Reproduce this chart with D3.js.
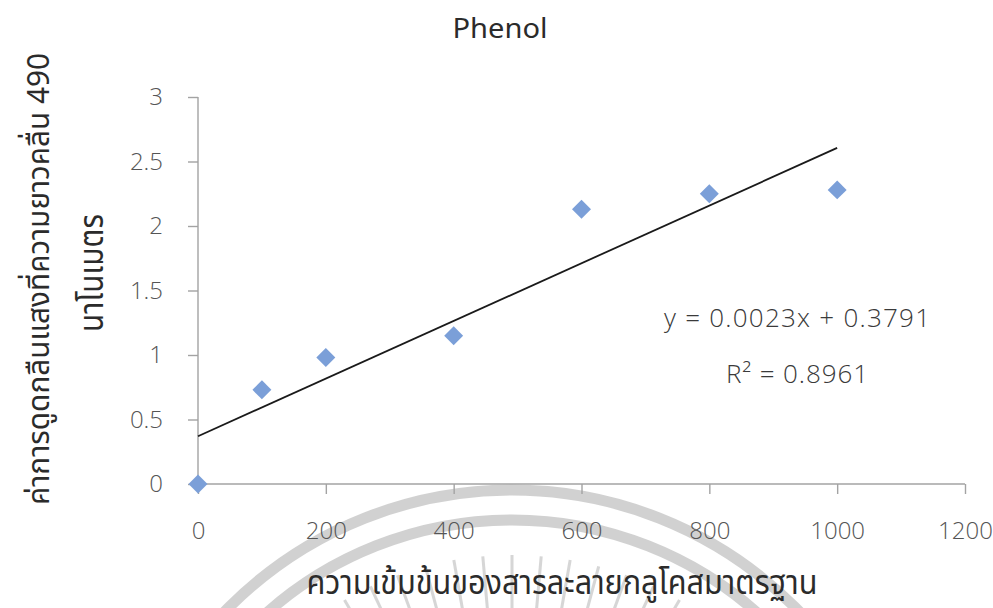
<!DOCTYPE html>
<html><head><meta charset="utf-8">
<script src="https://cdn.jsdelivr.net/npm/d3@7"></script>
<style>
html,body{margin:0;padding:0;background:#fff;}
svg{display:block;}
</style></head>
<body>
<svg id="chart" width="993" height="608"></svg>
<script>
const chartTitle = "Phenol";
const xTitle = "ความเข้มข้นของสารละลายกลูโคสมาตรฐาน";
const yTitleLines = ["ค่าการดูดกลืนแสงที่ความยาวคลื่น 490", "นาโนเมตร"];
const concentrations = [0, 100, 200, 400, 600, 800, 1000];
const absorbance = [0, 0.73, 0.98, 1.15, 2.13, 2.25, 2.28];
const xTicks = [0, 200, 400, 600, 800, 1000, 1200];
const yTicks = [0, 0.5, 1, 1.5, 2, 2.5, 3];
const equationText = "y = 0.0023x + 0.3791";
const r2Text = "R² = 0.8961";

const svg = d3.select("#chart");
const W = 993, H = 608;
const m = {left: 198, right: 28, top: 97, bottom: 124};

const x = d3.scaleLinear().domain([0, 1200]).range([m.left, W - m.right]);
const y = d3.scaleLinear().domain([0, 3]).range([H - m.bottom, m.top]);

const axisColor = "#a3a3a3";
const tickFont = "'Open Sans', 'Noto Sans', sans-serif";
const thaiFont = "'Noto Sans Thai', 'Noto Sans Thai Looped', 'Noto Sans', sans-serif";

// faint watermark arcs (background decoration)
const wm = svg.append("g").attr("opacity", 0.45);
const cx = 512, cy = 890;
[400, 370].forEach(r => {
  wm.append("circle").attr("cx", cx).attr("cy", cy).attr("r", r)
    .attr("fill", "none").attr("stroke", "#9a9a9a").attr("stroke-width", 11);
});
d3.range(-30, 31, 5).forEach(a => {
  const t = a * Math.PI / 180;
  wm.append("line")
    .attr("x1", cx + Math.sin(t) * 282).attr("y1", cy - Math.cos(t) * 282)
    .attr("x2", cx + Math.sin(t) * 335).attr("y2", cy - Math.cos(t) * 335)
    .attr("stroke", "#a5a5a5").attr("stroke-width", 3);
});

// axes
const xAxis = svg.append("g").attr("transform", `translate(0,${y(0)})`)
  .call(d3.axisBottom(x).tickValues(xTicks).tickSize(10).tickPadding(28).tickFormat(d3.format("d")));
const yAxis = svg.append("g").attr("transform", `translate(${x(0)},0)`)
  .call(d3.axisLeft(y).tickValues(yTicks).tickSize(10).tickPadding(25).tickFormat(d => d));
[xAxis, yAxis].forEach(g => {
  g.select(".domain").attr("stroke", axisColor).attr("stroke-width", 1.4);
  g.selectAll(".tick line").attr("stroke", axisColor).attr("stroke-width", 1.4);
  g.selectAll(".tick text").attr("fill", "#555").attr("font-size", 24)
    .attr("font-family", tickFont).attr("font-weight", 300);
});
yAxis.select(".domain").attr("d", `M0,${y(3)}V${y(0)}`);
xAxis.select(".domain").attr("d", `M${x(0)},0H${x(1200)}`);

// regression trend line computed from data
const n = concentrations.length;
const mx = d3.mean(concentrations), my = d3.mean(absorbance);
let sxy = 0, sxx = 0;
for (let i = 0; i < n; i++) {
  sxy += (concentrations[i] - mx) * (absorbance[i] - my);
  sxx += (concentrations[i] - mx) ** 2;
}
const slope = sxy / sxx, intercept = my - slope * mx;
const xMin = d3.min(concentrations), xMax = d3.max(concentrations);
svg.append("line")
  .attr("x1", x(xMin)).attr("y1", y(intercept + slope * xMin))
  .attr("x2", x(xMax)).attr("y2", y(intercept + slope * xMax))
  .attr("stroke", "#1a1a1a").attr("stroke-width", 1.8);

// points
svg.append("g").selectAll("path")
  .data(concentrations.map((c, i) => [c, absorbance[i]]))
  .join("path")
  .attr("d", d3.symbol(d3.symbolSquare, 180))
  .attr("transform", d => `translate(${x(d[0])},${y(d[1])}) rotate(45)`)
  .attr("fill", "#7b9fd8");

// equation labels
svg.append("text").attr("x", 797).attr("y", 327).attr("text-anchor", "middle")
  .attr("font-family", tickFont).attr("font-weight", 300).attr("font-size", 26)
  .attr("textLength", 266).attr("lengthAdjust", "spacing")
  .attr("fill", "#3a3a3a").text(equationText);
svg.append("text").attr("x", 797).attr("y", 383).attr("text-anchor", "middle")
  .attr("font-family", tickFont).attr("font-weight", 300).attr("font-size", 26)
  .attr("textLength", 142).attr("lengthAdjust", "spacing")
  .attr("fill", "#3a3a3a").text(r2Text);

// title
svg.append("text").attr("x", 500).attr("y", 38).attr("text-anchor", "middle")
  .attr("font-family", "'Noto Sans', sans-serif").attr("font-size", 27)
  .attr("textLength", 95).attr("lengthAdjust", "spacingAndGlyphs")
  .attr("fill", "#2b2b2b").text(chartTitle);

// x title
svg.append("text").attr("x", 562).attr("y", 594).attr("text-anchor", "middle")
  .attr("font-family", thaiFont).attr("font-size", 34)
  .attr("textLength", 511).attr("lengthAdjust", "spacingAndGlyphs")
  .attr("fill", "#2b2b2b").text(xTitle);

// y title (two rotated lines)
svg.append("text").attr("transform", "translate(49,279) rotate(-90)")
  .attr("text-anchor", "middle").attr("font-family", thaiFont).attr("font-size", 31)
  .attr("textLength", 452).attr("lengthAdjust", "spacingAndGlyphs")
  .attr("fill", "#2b2b2b").text(yTitleLines[0]);
svg.append("text").attr("transform", "translate(103,273) rotate(-90)")
  .attr("text-anchor", "middle").attr("font-family", thaiFont).attr("font-size", 33)
  .attr("textLength", 118).attr("lengthAdjust", "spacingAndGlyphs")
  .attr("fill", "#2b2b2b").text(yTitleLines[1]);
</script>
</body></html>
